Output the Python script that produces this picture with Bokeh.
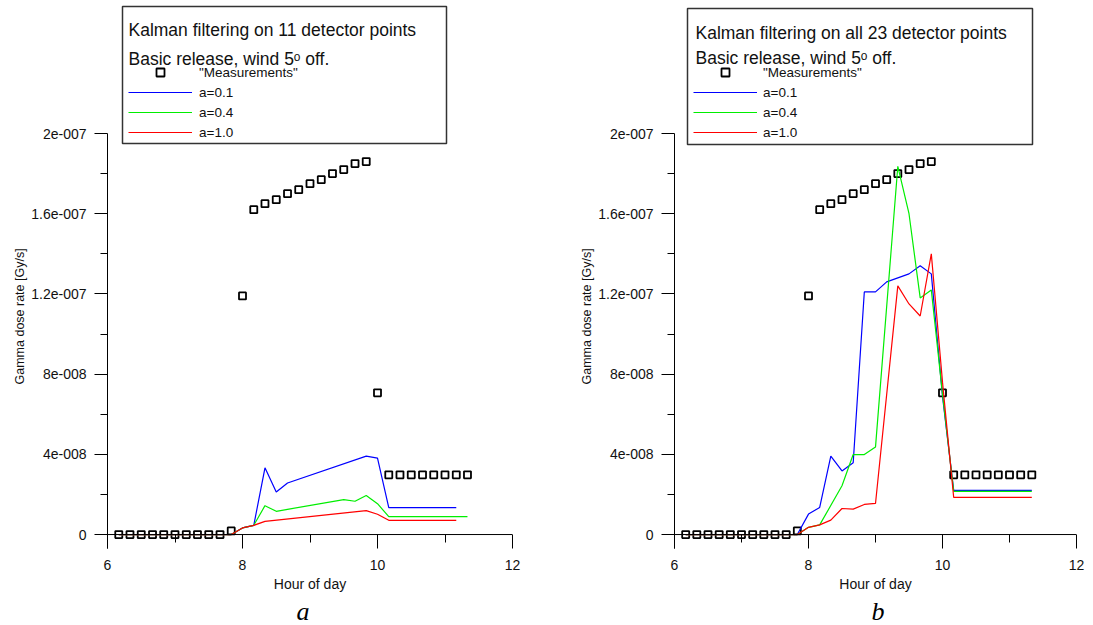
import math
from bokeh.plotting import figure
from bokeh.layouts import row
from bokeh.models import (FixedTicker, CustomJSTickFormatter, Range1d, Label, Title, Span,
                          BoxAnnotation, Legend, LegendItem)
from bokeh.embed import file_html
from bokeh.resources import INLINE

# ---------------- data ----------------
MEAS_HOURS = [6.167, 6.333, 6.5, 6.667, 6.833, 7.0, 7.167, 7.333, 7.5, 7.667, 7.833,
              8.0, 8.167, 8.333, 8.5, 8.667, 8.833, 9.0, 9.167, 9.333, 9.5, 9.667, 9.833,
              10.0, 10.167, 10.333, 10.5, 10.667, 10.833, 11.0, 11.167, 11.333]
MEAS_VALUES = [0, 0, 0, 0, 0, 0, 0, 0, 0, 0, 1.8e-9,
               1.19e-7, 1.62e-7, 1.65e-7, 1.67e-7, 1.70e-7, 1.72e-7, 1.75e-7, 1.77e-7,
               1.80e-7, 1.82e-7, 1.85e-7, 1.86e-7,
               7.07e-8, 2.98e-8, 2.98e-8, 2.98e-8, 2.98e-8, 2.98e-8, 2.98e-8, 2.98e-8, 2.98e-8]

# panel a: 11 detector points
A_BLUE_X = [6.167, 7.833, 8.0, 8.167, 8.333, 8.5, 8.667, 9.833, 10.0, 10.167, 11.167]
A_BLUE_Y = [0, 0, 3.3e-9, 4.6e-9, 3.33e-8, 2.12e-8, 2.57e-8, 3.91e-8, 3.81e-8, 1.34e-8, 1.34e-8]
A_GREEN_X = [6.167, 7.833, 8.0, 8.167, 8.333, 8.5, 9.5, 9.667, 9.833, 10.0, 10.167, 11.333]
A_GREEN_Y = [0, 0, 3.3e-9, 4.6e-9, 1.44e-8, 1.16e-8, 1.74e-8, 1.66e-8, 1.95e-8, 1.54e-8, 8.9e-9, 8.9e-9]
A_RED_X = [6.167, 7.833, 8.0, 8.167, 8.333, 9.833, 10.0, 10.167, 11.167]
A_RED_Y = [0, 0, 3.3e-9, 4.6e-9, 6.6e-9, 1.19e-8, 1.01e-8, 7.1e-9, 7.1e-9]

# panel b: all 23 detector points
B_BLUE_X = [6.167, 7.833, 8.0, 8.167, 8.333, 8.5, 8.667, 8.833, 9.0, 9.167, 9.5, 9.667, 9.833,
            10.0, 10.167, 11.333]
B_BLUE_Y = [0, 0, 1.02e-8, 1.35e-8, 3.91e-8, 3.17e-8, 3.58e-8, 1.21e-7, 1.21e-7, 1.26e-7,
            1.30e-7, 1.34e-7, 1.30e-7, 6.9e-8, 2.2e-8, 2.2e-8]
B_GREEN_X = [6.167, 7.833, 8.0, 8.167, 8.5, 8.667, 8.833, 9.0, 9.333, 9.5, 9.667, 9.833,
             10.0, 10.167, 11.333]
B_GREEN_Y = [0, 0, 3.6e-9, 4.8e-9, 2.43e-8, 3.99e-8, 3.99e-8, 4.36e-8, 1.836e-7, 1.6e-7,
             1.18e-7, 1.22e-7, 7.0e-8, 2.15e-8, 2.15e-8]
B_RED_X = [6.167, 7.833, 8.0, 8.167, 8.333, 8.5, 8.667, 8.833, 9.0, 9.333, 9.5, 9.667, 9.833,
           10.0, 10.167, 11.333]
B_RED_Y = [0, 0, 3.6e-9, 4.8e-9, 7.2e-9, 1.3e-8, 1.27e-8, 1.5e-8, 1.55e-8, 1.24e-7, 1.15e-7,
           1.09e-7, 1.40e-7, 7.6e-8, 1.85e-8, 1.85e-8]

SERIES_LABELS = ['"Measurements"', "a=0.1", "a=0.4", "a=1.0"]
SERIES_COLORS = ["#0000ff", "#00ee00", "#ff0000"]

X_TICKS = [6, 8, 10, 12]
Y_TICKS = [0, 4e-8, 8e-8, 1.2e-7, 1.6e-7, 2e-7]
Y_TICK_LABELS = ["0", "4e-008", "8e-008", "1.2e-007", "1.6e-007", "2e-007"]

TITLE_A = "Kalman filtering on 11 detector points"
TITLE_B = "Kalman filtering on all 23 detector points"
SUBTITLE = "Basic release, wind 5\u1d52 off."
X_LABEL = "Hour of day"
Y_LABEL = "Gamma dose rate [Gy/s]"

# ---------------- layout ----------------
H = 625
FRAME_H = 550
BORDER_BOTTOM = H - FRAME_H
Y_START = -6.96e-9
Y_END = 2.6634e-7
FONT = "Liberation Sans"
TXT = "#111111"


def build(canvas_x0, width, border_left, border_right, xs, ys, title, caption, lay):
    p = figure(width=width, height=H, x_range=Range1d(X_TICKS[0], X_TICKS[-1]),
               y_range=Range1d(Y_START, Y_END), output_backend="svg",
               toolbar_location=None, min_border_left=border_left,
               min_border_right=border_right, min_border_top=0,
               min_border_bottom=BORDER_BOTTOM)
    p.outline_line_color = None
    p.grid.visible = False
    p.background_fill_color = "white"
    p.border_fill_color = "white"

    frame_left = canvas_x0 + border_left

    def sx(px):
        return px - frame_left

    def sy(py):
        return FRAME_H - py

    # x axis: ticks hang below the zero line
    xa = p.xaxis[0]
    xa.ticker = FixedTicker(ticks=X_TICKS,
                            minor_ticks=[(a + b) / 2 for a, b in zip(X_TICKS[:-1], X_TICKS[1:])])
    xa.axis_line_color = None
    xa.major_tick_in = 14
    xa.major_tick_out = 0
    xa.minor_tick_in = 14
    xa.minor_tick_out = -6
    xa.major_tick_line_color = "black"
    xa.minor_tick_line_color = "black"
    xa.major_label_text_font = FONT
    xa.major_label_text_font_size = "14px"
    xa.major_label_text_color = TXT
    xa.major_label_standoff = 11
    xa.axis_label = X_LABEL
    xa.axis_label_text_font = FONT
    xa.axis_label_text_font_style = "normal"
    xa.axis_label_text_font_size = "14px"
    xa.axis_label_text_color = TXT
    xa.axis_label_standoff = 3
    p.add_layout(Span(location=0, dimension="width", line_color="black", line_width=1))

    ya = p.yaxis[0]
    ya.bounds = (Y_START, Y_TICKS[-1])
    ya.ticker = FixedTicker(ticks=Y_TICKS,
                            minor_ticks=[(a + b) / 2 for a, b in zip(Y_TICKS[:-1], Y_TICKS[1:])])
    ya.formatter = CustomJSTickFormatter(args=dict(tv=Y_TICKS, tl=Y_TICK_LABELS), code="""
        let best = 0, bd = Infinity;
        for (let i = 0; i < tv.length; i++) {
            const d = Math.abs(tv[i] - tick);
            if (d < bd) { bd = d; best = i; }
        }
        return tl[best];
    """)
    ya.major_tick_in = 0
    ya.major_tick_out = 13
    ya.minor_tick_in = 0
    ya.minor_tick_out = 7
    ya.axis_line_color = "black"
    ya.major_tick_line_color = "black"
    ya.minor_tick_line_color = "black"
    ya.major_label_text_font = FONT
    ya.major_label_text_font_size = "14px"
    ya.major_label_text_color = TXT
    ya.major_label_standoff = 8

    # y axis title as a side title so it can be shifted along the axis
    p.add_layout(Title(text=Y_LABEL, align="left", offset=164, standoff=4,
                       text_font=FONT, text_font_size="12.5px", text_font_style="normal",
                       text_color=TXT), "left")
    # panel caption
    p.add_layout(Title(text=caption, align="left", offset=lay["cap_off"], standoff=0,
                       text_font="Liberation Serif", text_font_size="26px",
                       text_font_style="italic", text_color="black"), "below")

    # data
    sq = p.scatter(MEAS_HOURS, MEAS_VALUES, marker="square", size=7, line_width=1.8,
                   line_color="black", fill_color=None)
    rends = [sq]
    for (x, y), c in zip(zip(xs, ys), SERIES_COLORS):
        rends.append(p.line(x, y, line_color=c, line_width=1.2))

    # legend frame
    p.add_layout(BoxAnnotation(left=sx(lay["box"][0]), right=sx(lay["box"][2]),
                               top=sy(lay["box"][1]), bottom=sy(lay["box"][3]),
                               left_units="screen", right_units="screen",
                               top_units="screen", bottom_units="screen",
                               fill_color=None, line_color="#333333", line_alpha=1.0,
                               line_width=1.5))
    items = [LegendItem(label=lab, renderers=[r]) for lab, r in zip(SERIES_LABELS, rends)]
    legend = Legend(items=items, location=(sx(lay["glyph_x"]), FRAME_H - lay["legend_bottom"]),
                    glyph_width=64, glyph_height=20, label_height=20, spacing=0,
                    padding=0, margin=0, label_standoff=lay["standoff"],
                    border_line_color=None, background_fill_alpha=0,
                    label_text_font=FONT, label_text_font_size="13.5px",
                    label_text_color=TXT)
    p.add_layout(legend)

    p.add_layout(Label(x=sx(lay["title_x"]), y=sy(lay["t1"]), x_units="screen", y_units="screen",
                       text=title, text_font=FONT, text_font_size="17.5px",
                       text_baseline="alphabetic", text_color=TXT))
    p.add_layout(Label(x=sx(lay["title_x"]), y=sy(lay["t2"]), x_units="screen", y_units="screen",
                       text=SUBTITLE, text_font=FONT, text_font_size="17.5px",
                       text_baseline="alphabetic", text_color=TXT))
    return p


lay_a = dict(box=(122, 8, 446, 145), glyph_x=128, legend_bottom=144, standoff=7,
             title_x=128, t1=31.5, t2=60, cap_off=189)
lay_b = dict(box=(687, 10, 1032, 146), glyph_x=693, legend_bottom=144, standoff=6,
             title_x=695, t1=34, t2=59.5, cap_off=197)

pa = build(0, 560, 107, 48, [A_BLUE_X, A_GREEN_X, A_RED_X], [A_BLUE_Y, A_GREEN_Y, A_RED_Y],
           TITLE_A, "a", lay_a)
pb = build(560, 533, 114, 17, [B_BLUE_X, B_GREEN_X, B_RED_X], [B_BLUE_Y, B_GREEN_Y, B_RED_Y],
           TITLE_B, "b", lay_b)

layout = row(pa, pb, spacing=0)
open("out.html", "w").write(file_html(layout, INLINE))
